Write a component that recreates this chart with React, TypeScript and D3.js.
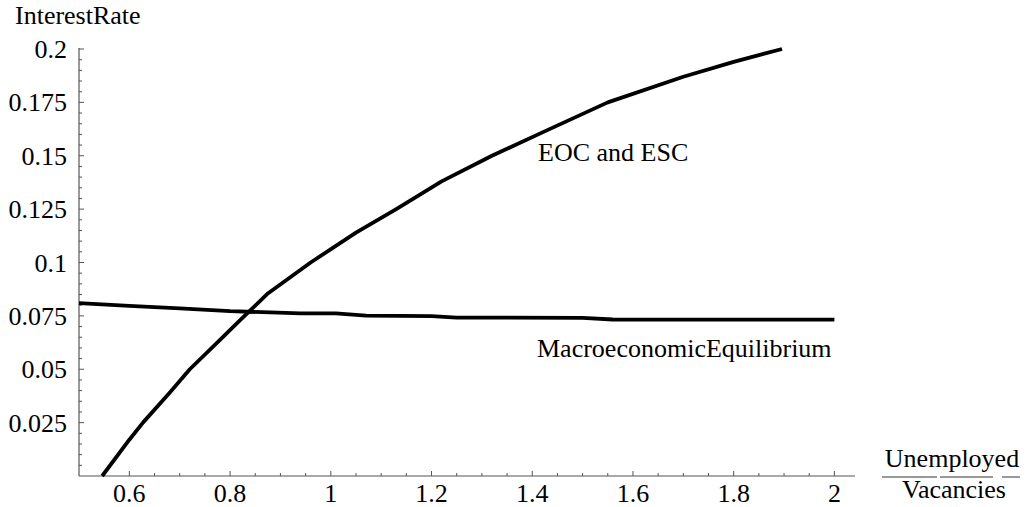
import React from "react";
import * as d3 from "d3";

const eocX = [0.546, 0.6, 0.627, 0.68, 0.72, 0.78, 0.82, 0.875, 0.96, 1.05, 1.13, 1.22, 1.32, 1.43, 1.55, 1.7, 1.8, 1.896];
const eocY = [0, 0.017, 0.025, 0.039, 0.05, 0.0638, 0.073, 0.0855, 0.1, 0.114, 0.125, 0.138, 0.15, 0.162, 0.175, 0.187, 0.194, 0.2];

const macroX = [0.5, 0.6, 0.7, 0.8, 0.88, 0.94, 1.01, 1.07, 1.2, 1.25, 1.5, 1.56, 2.0];
const macroY = [0.081, 0.0797, 0.0785, 0.0772, 0.0766, 0.0762, 0.0762, 0.0751, 0.0749, 0.0742, 0.0741, 0.0733, 0.0732];

const xTicks = [0.6, 0.8, 1, 1.2, 1.4, 1.6, 1.8, 2];
const xTickLabels = ["0.6", "0.8", "1", "1.2", "1.4", "1.6", "1.8", "2"];
const yTicks = [0.025, 0.05, 0.075, 0.1, 0.125, 0.15, 0.175, 0.2];
const yTickLabels = ["0.025", "0.05", "0.075", "0.1", "0.125", "0.15", "0.175", "0.2"];

const W = 1027;
const H = 507;
const FONT = "Liberation Serif";
const FS = 26;

export default function App() {
  const x = d3.scaleLinear().domain([0.5, 2]).range([79, 834.4]);
  const y = d3.scaleLinear().domain([0, 0.2]).range([476, 49]);

  const line = d3
    .line<[number, number]>()
    .x((d) => x(d[0]))
    .y((d) => y(d[1]));

  const eoc: [number, number][] = eocX.map((v, i) => [v, eocY[i]]);
  const macro: [number, number][] = macroX.map((v, i) => [v, macroY[i]]);

  const xMinor = d3.range(0, 32).map((i) => 0.5 + i * 0.05).filter((v) => v > 0.51 && v < 2.04);
  const yMinor = d3.range(1, 41).map((i) => i * 0.005);

  const x0 = x(0.5);
  const y0 = y(0);
  const axisColor = "#555";

  return (
    <svg width={W} height={H} style={{ position: "absolute", left: 0, top: 0, background: "#fff" }}>
      {/* axes */}
      <line x1={x0} x2={855} y1={y0} y2={y0} stroke={axisColor} strokeWidth={1.2} />
      <line x1={x0} x2={x0} y1={y0} y2={48} stroke={axisColor} strokeWidth={1.2} />

      {/* x ticks */}
      {xMinor.map((v, i) => {
        const major = xTicks.some((t) => Math.abs(t - v) < 1e-6);
        return (
          <line
            key={"xm" + i}
            x1={x(v)}
            x2={x(v)}
            y1={y0}
            y2={y0 - (major ? 5 : 3)}
            stroke={axisColor}
            strokeWidth={1}
          />
        );
      })}
      {xTicks.map((v, i) => (
        <text key={"xl" + i} x={x(v)} y={502} textAnchor="middle" fontFamily={FONT} fontSize={FS} fill="#000">
          {xTickLabels[i]}
        </text>
      ))}

      {/* y ticks */}
      {yMinor.map((v, i) => {
        const major = yTicks.some((t) => Math.abs(t - v) < 1e-6);
        return (
          <line
            key={"ym" + i}
            x1={x0}
            x2={x0 + (major ? 5 : 3)}
            y1={y(v)}
            y2={y(v)}
            stroke={axisColor}
            strokeWidth={1}
          />
        );
      })}
      {yTicks.map((v, i) => (
        <text key={"yl" + i} x={67} y={y(v) + 9} textAnchor="end" fontFamily={FONT} fontSize={FS} fill="#000">
          {yTickLabels[i]}
        </text>
      ))}

      {/* axis labels */}
      <text x={15} y={24} fontFamily={FONT} fontSize={FS} fill="#000">
        InterestRate
      </text>
      <text x={952} y={467} textAnchor="middle" fontFamily={FONT} fontSize={FS} fill="#000">
        Unemployed
      </text>
      <line x1={882} x2={937} y1={477} y2={477} stroke="#333" strokeWidth={1} />
      <line x1={940} x2={993} y1={477} y2={477} stroke="#333" strokeWidth={1} />
      <line x1={1002} x2={1020} y1={477} y2={477} stroke="#333" strokeWidth={1} />
      <text x={954} y={498} textAnchor="middle" fontFamily={FONT} fontSize={FS} fill="#000">
        Vacancies
      </text>

      {/* curves */}
      <path d={line(macro) || ""} fill="none" stroke="#000" strokeWidth={3.8} strokeLinejoin="round" />
      <path d={line(eoc) || ""} fill="none" stroke="#000" strokeWidth={3.8} strokeLinejoin="round" />

      {/* curve labels */}
      <text x={538} y={161} fontFamily={FONT} fontSize={FS} fill="#000">
        EOC and ESC
      </text>
      <text x={537} y={357} fontFamily={FONT} fontSize={FS} fill="#000">
        MacroeconomicEquilibrium
      </text>
    </svg>
  );
}
